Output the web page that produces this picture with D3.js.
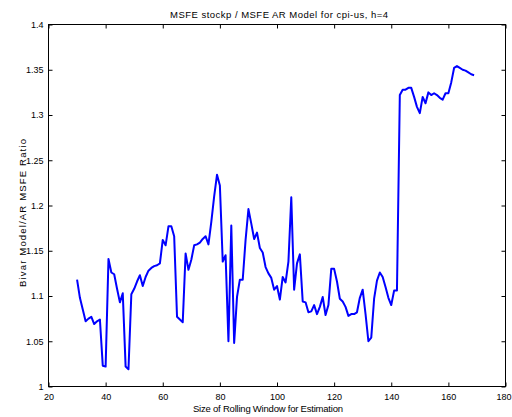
<!DOCTYPE html>
<html>
<head>
<meta charset="utf-8">
<script src="https://cdn.jsdelivr.net/npm/d3@7"></script>
<style>
  html, body { margin: 0; padding: 0; background: #fff; }
  text { font-family: "Liberation Sans", Arial, Helvetica, sans-serif; fill: #000; }
</style>
</head>
<body>
<svg id="chart" width="512" height="417"></svg>
<script>
// Rolling window sizes (observations) and the MSFE ratio for each window
const windowStart = 30;
const ratio = [
  1.118, 1.098, 1.085, 1.072, 1.075, 1.077, 1.069, 1.072, 1.074, 1.023, // 30-39
  1.022, 1.141, 1.126, 1.124, 1.108, 1.093, 1.103, 1.022, 1.019, 1.102, // 40-49
  1.108, 1.116, 1.123, 1.111, 1.121, 1.128, 1.131, 1.133, 1.134, 1.136, // 50-59
  1.162, 1.156, 1.177, 1.177, 1.166, 1.077, 1.074, 1.071, 1.147, 1.129, // 60-69
  1.140, 1.156, 1.157, 1.159, 1.163, 1.166, 1.157, 1.182, 1.210, 1.234, // 70-79
  1.222, 1.138, 1.145, 1.050, 1.178, 1.048, 1.099, 1.118, 1.118, 1.162, // 80-89
  1.196, 1.180, 1.163, 1.170, 1.153, 1.148, 1.132, 1.125, 1.120, 1.107, // 90-99
  1.111, 1.096, 1.121, 1.115, 1.138, 1.209, 1.107, 1.136, 1.146, 1.094, // 100-109
  1.093, 1.082, 1.083, 1.090, 1.080, 1.088, 1.099, 1.079, 1.090, 1.130, // 110-119
  1.130, 1.116, 1.097, 1.094, 1.088, 1.078, 1.080, 1.080, 1.082, 1.098, // 120-129
  1.107, 1.080, 1.050, 1.054, 1.097, 1.117, 1.126, 1.121, 1.110, 1.098, // 130-139
  1.090, 1.106, 1.106, 1.322, 1.328, 1.328, 1.330, 1.330, 1.320, 1.309, // 140-149
  1.302, 1.320, 1.313, 1.325, 1.322, 1.324, 1.322, 1.319, 1.317, 1.324, // 150-159
  1.324, 1.336, 1.352, 1.354, 1.352, 1.350, 1.349, 1.347, 1.345, 1.344  // 160-169
];
const windowSizes = ratio.map((_, i) => windowStart + i);

const xTicks = [20, 40, 60, 80, 100, 120, 140, 160, 180];
const yTicks = [1, 1.05, 1.1, 1.15, 1.2, 1.25, 1.3, 1.35, 1.4];
const yTickLabels = ["1", "1.05", "1.1", "1.15", "1.2", "1.25", "1.3", "1.35", "1.4"];

const titleText = "MSFE stockp / MSFE AR Model for cpi-us, h=4";
const xLabel = "Size of Rolling Window for Estimation";
const yLabel = "Bivar Model/AR MSFE Ratio";

const plot = { left: 48.5, right: 505.5, top: 24.5, bottom: 386.5 };

const svg = d3.select("#chart");

const x = d3.scaleLinear().domain([20, 180]).range([plot.left, plot.right]);
const y = d3.scaleLinear().domain([1, 1.4]).range([plot.bottom, plot.top]);

const tickLen = 4;

// Bottom axis with labels, plus mirrored top ticks
const xAxis = svg.append("g")
  .attr("transform", `translate(0,${plot.bottom})`)
  .call(d3.axisBottom(x).tickValues(xTicks).tickSizeInner(-tickLen).tickSizeOuter(0).tickPadding(7)
    .tickFormat(d3.format("d")));
const yAxis = svg.append("g")
  .attr("transform", `translate(${plot.left},0)`)
  .call(d3.axisLeft(y).tickValues(yTicks).tickSizeInner(-tickLen).tickSizeOuter(0).tickPadding(5)
    .tickFormat((d, i) => yTickLabels[i]));
const xTop = svg.append("g")
  .attr("transform", `translate(0,${plot.top})`)
  .call(d3.axisTop(x).tickValues(xTicks).tickSizeInner(-tickLen).tickSizeOuter(0).tickFormat(""));
const yRight = svg.append("g")
  .attr("transform", `translate(${plot.right},0)`)
  .call(d3.axisRight(y).tickValues(yTicks).tickSizeInner(-tickLen).tickSizeOuter(0).tickFormat(""));

[xAxis, yAxis, xTop, yRight].forEach(g => {
  g.select(".domain").remove();
  g.selectAll(".tick line").attr("stroke", "#000").attr("stroke-width", 1);
  g.selectAll(".tick text").attr("font-size", 9).attr("font-family", "Liberation Sans, Arial, sans-serif");
});
// keep the last x tick label inside the canvas
xAxis.selectAll(".tick text").filter(d => d === 180).attr("dx", -2);

// Frame around the plotting area
svg.append("rect")
  .attr("x", plot.left).attr("y", plot.top)
  .attr("width", plot.right - plot.left).attr("height", plot.bottom - plot.top)
  .attr("fill", "none").attr("stroke", "#000").attr("stroke-width", 1);

// Ratio line
const line = d3.line()
  .x((d, i) => x(windowSizes[i]))
  .y(d => y(d));

svg.append("path")
  .datum(ratio)
  .attr("d", line)
  .attr("fill", "none")
  .attr("stroke", "#0000ff")
  .attr("stroke-width", 2)
  .attr("stroke-linejoin", "round");

// Title and axis labels
svg.append("text")
  .attr("x", 279).attr("y", 18)
  .attr("text-anchor", "middle").attr("font-size", 9.5)
  .attr("textLength", 218).attr("lengthAdjust", "spacing")
  .text(titleText);

svg.append("text")
  .attr("x", 268).attr("y", 412)
  .attr("text-anchor", "middle").attr("font-size", 9.5)
  .attr("textLength", 150).attr("lengthAdjust", "spacing")
  .text(xLabel);

svg.append("text")
  .attr("transform", `translate(26,213) rotate(-90)`)
  .attr("text-anchor", "middle").attr("font-size", 9.5)
  .attr("textLength", 148).attr("lengthAdjust", "spacing")
  .text(yLabel);
</script>
</body>
</html>
